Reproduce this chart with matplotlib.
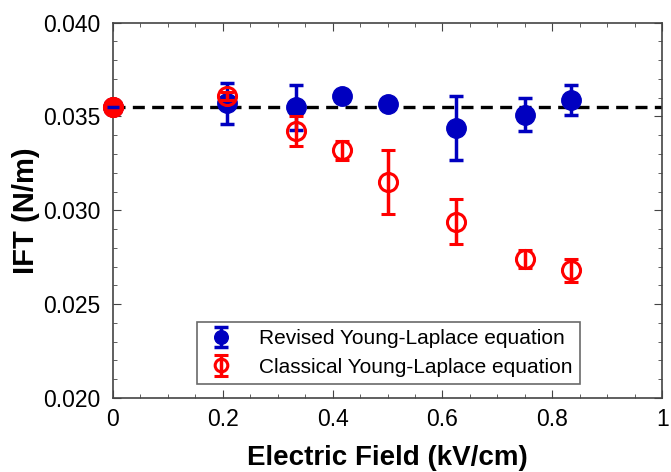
import numpy as np
import matplotlib
matplotlib.use("Agg")
import matplotlib.pyplot as plt
from matplotlib.ticker import MultipleLocator

plt.rcParams['font.family'] = ['Liberation Sans', 'DejaVu Sans']

# electric field (kV/cm)
field = [0, 0.208, 0.333, 0.417, 0.5, 0.625, 0.75, 0.833]
# revised Young-Laplace
ift_rev = [0.0355, 0.0357, 0.0355, 0.0361, 0.03566, 0.0344, 0.0351, 0.0359]
err_rev = [0.0001, 0.0011, 0.0012, 0.0002, 0.0002, 0.0017, 0.0009, 0.0008]
# classical Young-Laplace
ift_cls = [0.0355, 0.0361, 0.0342, 0.0332, 0.0315, 0.0294, 0.0274, 0.0268]
err_cls = [0.0001, 0.0002, 0.0008, 0.0005, 0.0017, 0.0012, 0.0005, 0.0006]
ref_ift = 0.03553

fig = plt.figure(figsize=(6.71, 4.72), dpi=100)
ax = fig.add_axes([0.168, 0.157, 0.819, 0.795])

ax.axhline(ref_ift, color='black', lw=2.4, ls=(0, (3.6, 2.2)), zorder=1)

eb1 = ax.errorbar(field, ift_rev, yerr=err_rev, fmt='o', color='#0000c0', ms=14,
                  elinewidth=2.5, capsize=5, capthick=2.5, zorder=2,
                  label='Revised Young-Laplace equation')
eb2 = ax.errorbar(field, ift_cls, yerr=err_cls, fmt='o', color='red', mfc='none',
                  mec='red', mew=2.2, ms=13, elinewidth=2.5, capsize=5,
                  capthick=2.5, zorder=3, label='Classical Young-Laplace equation')
for eb in (eb1, eb2):
    eb[0].set_clip_on(False)
# first point is drawn solid red
ax.plot(field[:1], ift_cls[:1], 'o', color='red', ms=14, zorder=4, clip_on=False)
ax.plot(field[:1], ift_rev[:1], '_', color='#0000c0', ms=8, mew=2.5, zorder=5, clip_on=False)

ax.set_xlim(0, 1)
ax.set_ylim(0.020, 0.040)
ax.xaxis.set_major_locator(MultipleLocator(0.2))
ax.xaxis.set_minor_locator(MultipleLocator(0.05))
ax.yaxis.set_major_locator(MultipleLocator(0.005))
ax.yaxis.set_minor_locator(MultipleLocator(0.001))
ax.set_xticks([0, 0.2, 0.4, 0.6, 0.8, 1])
ax.set_xticklabels(['0', '0.2', '0.4', '0.6', '0.8', '1'])
ax.set_yticklabels(['%.3f' % v for v in ax.get_yticks()])
ax.tick_params(which='both', direction='in', top=True, right=True,
               labelsize=16.5, color='#444444')
ax.tick_params(axis='x', pad=7)
ax.tick_params(axis='y', pad=9)
ax.tick_params(which='major', length=6)
ax.tick_params(which='minor', length=3)
for s in ax.spines.values():
    s.set_color('#444444')
    s.set_linewidth(1.2)

ax.set_xlabel('Electric Field (kV/cm)', fontsize=20, fontweight='bold', labelpad=10)
ax.set_ylabel('IFT (N/m)', fontsize=21, fontweight='bold')
ax.yaxis.set_label_coords(-0.132, 0.5)

leg = ax.legend(loc='lower center', bbox_to_anchor=(0.502, 0.037), fontsize=15,
                fancybox=False, edgecolor='#444444', markerscale=0.7,
                handlelength=1.6, borderpad=0.35, labelspacing=0.45,
                handletextpad=1.0, borderaxespad=0)
leg.get_frame().set_linewidth(1.2)

fig.savefig('out.png', dpi=100)
